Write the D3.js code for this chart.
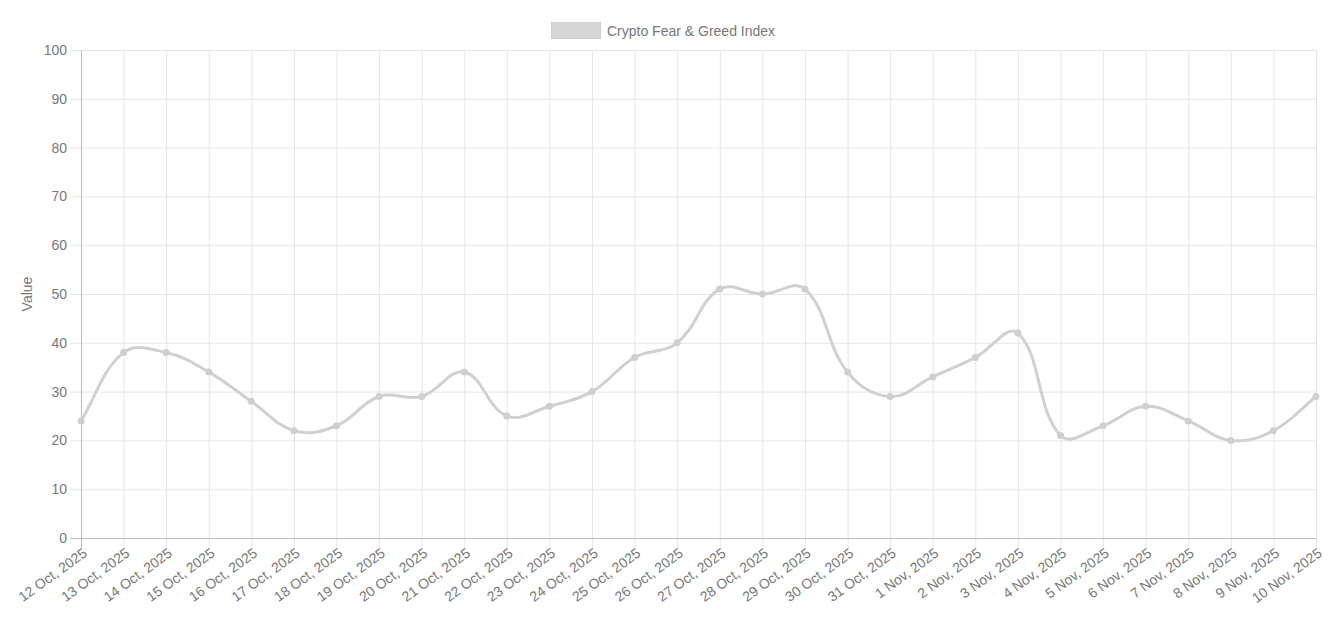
<!DOCTYPE html>
<html>
<head>
<meta charset="utf-8">
<script src="https://cdn.jsdelivr.net/npm/d3@7"></script>
<style>
  body { margin: 0; background: #fff; }
  svg { display: block; font-family: "Liberation Sans", Helvetica, Arial, sans-serif; }
</style>
</head>
<body>
<div id="chart"></div>
<script>
var dates = ["12 Oct, 2025", "13 Oct, 2025", "14 Oct, 2025", "15 Oct, 2025", "16 Oct, 2025",
    "17 Oct, 2025", "18 Oct, 2025", "19 Oct, 2025", "20 Oct, 2025", "21 Oct, 2025",
    "22 Oct, 2025", "23 Oct, 2025", "24 Oct, 2025", "25 Oct, 2025", "26 Oct, 2025",
    "27 Oct, 2025", "28 Oct, 2025", "29 Oct, 2025", "30 Oct, 2025", "31 Oct, 2025",
    "1 Nov, 2025", "2 Nov, 2025", "3 Nov, 2025", "4 Nov, 2025", "5 Nov, 2025",
    "6 Nov, 2025", "7 Nov, 2025", "8 Nov, 2025", "9 Nov, 2025", "10 Nov, 2025"];
var values = [24, 38, 38, 34, 28, 22, 23, 29, 29, 34, 25, 27, 30, 37, 40,
    51, 50, 51, 34, 29, 33, 37, 42, 21, 23, 27, 24, 20, 22, 29];
var yTicks = [0, 10, 20, 30, 40, 50, 60, 70, 80, 90, 100];
var seriesName = "Crypto Fear & Greed Index";

var width = 1337, height = 617;
var margin = {top: 50, right: 21, bottom: 79, left: 81};
var textColor = "#777";

var svg = d3.select("#chart").append("svg")
    .attr("width", width)
    .attr("height", height);

var x = d3.scalePoint()
    .domain(dates)
    .range([margin.left, width - margin.right]);

var y = d3.scaleLinear()
    .domain([0, 100])
    .range([height - margin.bottom, margin.top]);

// grid lines
svg.append("g")
    .selectAll("line")
    .data(yTicks)
    .enter().append("line")
    .attr("x1", margin.left - 11)
    .attr("x2", width - margin.right)
    .attr("y1", function (d) { return y(d) + 0.5; })
    .attr("y2", function (d) { return y(d) + 0.5; })
    .style("stroke", "#e6e6e6");

svg.append("g")
    .selectAll("line")
    .data(dates)
    .enter().append("line")
    .attr("x1", function (d) { return x(d) + 0.5; })
    .attr("x2", function (d) { return x(d) + 0.5; })
    .attr("y1", margin.top)
    .attr("y2", height - margin.bottom + 10)
    .style("stroke", "#e6e6e6");

// axis lines
svg.append("line")
    .attr("x1", margin.left + 0.5).attr("x2", margin.left + 0.5)
    .attr("y1", margin.top).attr("y2", height - margin.bottom + 10)
    .style("stroke", "#bdbdbd");
svg.append("line")
    .attr("x1", margin.left - 11).attr("x2", width - margin.right)
    .attr("y1", height - margin.bottom + 0.5).attr("y2", height - margin.bottom + 0.5)
    .style("stroke", "#bdbdbd");

// y tick labels
svg.append("g")
    .selectAll("text")
    .data(yTicks)
    .enter().append("text")
    .attr("x", margin.left - 14)
    .attr("y", function (d) { return y(d); })
    .attr("dy", "0.35em")
    .attr("text-anchor", "end")
    .style("font-size", "14px")
    .style("fill", textColor)
    .text(function (d) { return d; });

// x tick labels, rotated
svg.append("g")
    .selectAll("text")
    .data(dates)
    .enter().append("text")
    .attr("transform", function (d) {
        return "translate(" + (x(d) + 1) + "," + (height - margin.bottom + 9) + ") rotate(-36)";
    })
    .attr("text-anchor", "end")
    .attr("dy", "0.72em")
    .style("font-size", "14px")
    .style("fill", textColor)
    .text(function (d) { return d; });

// y axis title
svg.append("text")
    .attr("transform", "translate(27," + ((margin.top + height - margin.bottom) / 2) + ") rotate(-90)")
    .attr("text-anchor", "middle")
    .attr("dy", "0.35em")
    .style("font-size", "14px")
    .style("fill", textColor)
    .text("Value");

// legend
svg.append("rect")
    .attr("x", 551.5).attr("y", 22.5)
    .attr("width", 49).attr("height", 16)
    .style("fill", "#d6d6d6")
    .style("stroke", "#cfcfcf");
svg.append("text")
    .attr("x", 607).attr("y", 31)
    .attr("dy", "0.35em")
    .style("font-size", "14px")
    .style("fill", textColor)
    .text(seriesName);

// spline like chart.js (tension 0.4)
var pts = values.map(function (v, i) { return [x(dates[i]), y(v)]; });
var tension = 0.4;
var cps = pts.map(function (p, i) {
    var prev = pts[i - 1] || p, next = pts[i + 1] || p;
    var d01 = Math.hypot(p[0] - prev[0], p[1] - prev[1]);
    var d12 = Math.hypot(next[0] - p[0], next[1] - p[1]);
    var s01 = d01 / (d01 + d12), s12 = d12 / (d01 + d12);
    if (isNaN(s01)) s01 = 0;
    if (isNaN(s12)) s12 = 0;
    var fa = tension * s01, fb = tension * s12;
    return {
        prev: [p[0] - fa * (next[0] - prev[0]), p[1] - fa * (next[1] - prev[1])],
        next: [p[0] + fb * (next[0] - prev[0]), p[1] + fb * (next[1] - prev[1])]
    };
});
var path = d3.path();
path.moveTo(pts[0][0], pts[0][1]);
for (var i = 1; i < pts.length; i++) {
    var c1 = cps[i - 1].next, c2 = cps[i].prev;
    path.bezierCurveTo(c1[0], c1[1], c2[0], c2[1], pts[i][0], pts[i][1]);
}

svg.append("path")
    .attr("d", path.toString())
    .style("fill", "none")
    .style("stroke", "#d0d0d0")
    .style("stroke-width", 3);

svg.append("g")
    .selectAll("circle")
    .data(values)
    .enter().append("circle")
    .attr("cx", function (d, i) { return x(dates[i]); })
    .attr("cy", function (d) { return y(d); })
    .attr("r", 3.5)
    .style("fill", "#cfcfcf");
</script>
</body>
</html>
